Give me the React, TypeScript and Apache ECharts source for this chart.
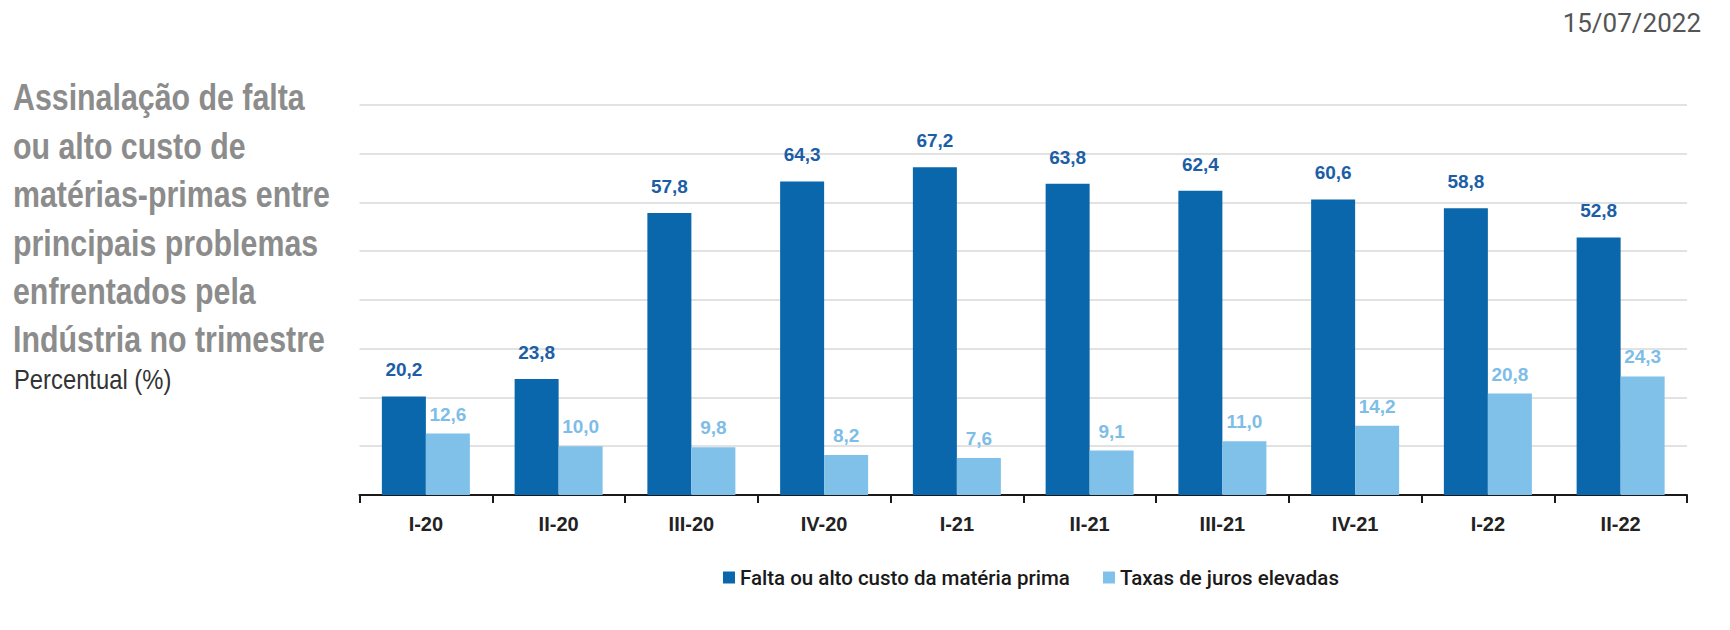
import React, { useEffect, useRef } from "react";
import * as echarts from "echarts";

const categories = ["I-20", "II-20", "III-20", "IV-20", "I-21", "II-21", "III-21", "IV-21", "I-22", "II-22"];
const faltaValues = [20.2, 23.8, 57.8, 64.3, 67.2, 63.8, 62.4, 60.6, 58.8, 52.8];
const jurosValues = [12.6, 10.0, 9.8, 8.2, 7.6, 9.1, 11.0, 14.2, 20.8, 24.3];
const seriesNames = ["Falta ou alto custo da matéria prima", "Taxas de juros elevadas"];
const titleLines = [
  "Assinalação de falta",
  "ou alto custo de",
  "matérias-primas entre",
  "principais problemas",
  "enfrentados pela",
  "Indústria no trimestre",
];
const subtitleText = "Percentual (%)";
const dateText = "15/07/2022";
const yMin = 0;
const yMax = 80;
const yInterval = 10;

const SANS = "'Liberation Sans', Arial, sans-serif";
const LEGEND_FONT = "Roboto, 'Liberation Sans', sans-serif";

const DARK = "#0a67ab";
const LIGHT = "#80c1ea";

const fmt = (p: any) => Number(p.value).toFixed(1).replace(".", ",");

export default function App() {
  const ref = useRef<HTMLDivElement>(null);

  useEffect(() => {
    if (!ref.current) return;
    const chart = echarts.init(ref.current, undefined, { renderer: "svg" });
    const legendBase = {
      top: 567,
      padding: 0,
      itemWidth: 12,
      itemHeight: 12,
      icon: "rect",
      textStyle: { fontFamily: LEGEND_FONT, fontSize: 20.5, fontWeight: 500, color: "#1a1a1a" },
    };
    chart.setOption({
      animation: false,
      backgroundColor: "#ffffff",
      grid: { left: 359.5, right: 43, top: 104.8, bottom: 135, containLabel: false },
      legend: [
        { ...legendBase, data: [seriesNames[0]], left: 723 },
        { ...legendBase, data: [seriesNames[1]], left: 1103 },
      ],
      xAxis: {
        type: "category",
        data: categories,
        axisLine: { lineStyle: { color: "#1a1a1a", width: 2 } },
        axisTick: { show: true, length: 8, lineStyle: { color: "#1a1a1a", width: 2 } },
        axisLabel: {
          margin: 19,
          fontSize: 20,
          fontWeight: "bold",
          fontFamily: SANS,
          color: "#222",
        },
      },
      yAxis: {
        type: "value",
        min: yMin,
        max: yMax,
        interval: yInterval,
        axisLabel: { show: false },
        axisLine: { show: false },
        axisTick: { show: false },
        splitLine: { lineStyle: { color: "#d9d9d9", width: 1.5 } },
      },
      series: [
        {
          name: seriesNames[0],
          type: "bar",
          data: faltaValues,
          barWidth: 44,
          barGap: "0%",
          itemStyle: { color: DARK },
          label: {
            show: true,
            position: "top",
            distance: 17,
            formatter: fmt,
            fontFamily: SANS,
            fontWeight: "bold",
            fontSize: 19,
            color: "#1c5ea6",
          },
        },
        {
          name: seriesNames[1],
          type: "bar",
          data: jurosValues,
          barWidth: 44,
          barGap: "0%",
          itemStyle: { color: LIGHT },
          label: {
            show: true,
            position: "top",
            distance: 10,
            formatter: fmt,
            fontFamily: SANS,
            fontWeight: "bold",
            fontSize: 19,
            color: "#7ebde8",
          },
        },
      ],
      graphic: [
        {
          type: "text",
          x: 13,
          y: 73,
          scaleX: 0.82,
          style: {
            text: titleLines.join("\n"),
            fontFamily: SANS,
            fontWeight: "bold",
            fontSize: 37,
            lineHeight: 48.4,
            fill: "#8c8c8c",
            align: "left",
            verticalAlign: "top",
          },
        },
        {
          type: "text",
          x: 14,
          y: 379,
          scaleX: 0.85,
          style: {
            text: subtitleText,
            fontFamily: SANS,
            fontSize: 28,
            fill: "#333333",
            align: "left",
            verticalAlign: "middle",
          },
        },
        {
          type: "text",
          x: 1701,
          y: 23,
          style: {
            text: dateText,
            fontFamily: "Roboto, 'Open Sans', sans-serif",
            fontSize: 26,
            fill: "#555555",
            align: "right",
            verticalAlign: "middle",
          },
        },
      ],
    });
    return () => chart.dispose();
  }, []);

  return (
    <div
      ref={ref}
      style={{ position: "fixed", left: 0, top: 0, width: 1730, height: 630 }}
    />
  );
}
